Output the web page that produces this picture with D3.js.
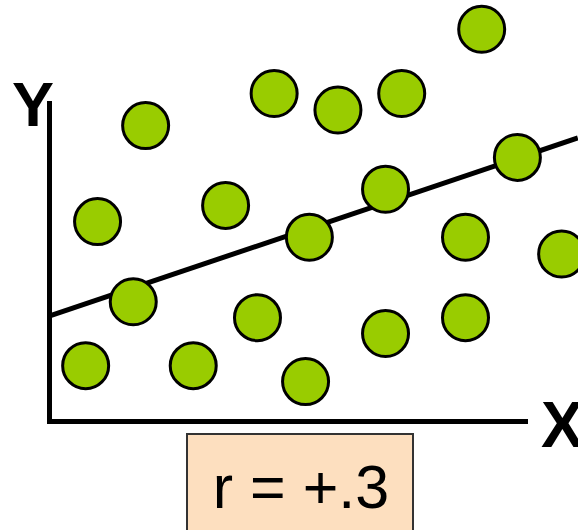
<!DOCTYPE html>
<html>
<head>
<meta charset="utf-8">
<script src="https://cdn.jsdelivr.net/npm/d3@7/dist/d3.min.js"></script>
<style>
  html, body { margin: 0; padding: 0; background: #fff; overflow: hidden; }
  svg { display: block; }
</style>
</head>
<body>
<svg id="chart" width="578" height="530"></svg>
<script>
// Scatter points (x, y) in plot units
const pointX = [90.9, 47.3, 60.7, 74.1, 20.3, 10.2, 37.1, 70.7, 98.4, 54.7, 87.5, 107.7, 17.7, 7.7, 30.3, 43.8, 53.9, 70.7, 87.5];
const pointY = [123.2, 103.0, 97.8, 103.0, 92.9, 62.7, 67.8, 72.9, 82.9, 57.8, 57.8, 52.5, 37.5, 17.4, 17.4, 32.5, 12.4, 27.5, 32.5];

// Fitted line endpoints
const trendX = [0, 111.1];
const trendY = [33.0, 89.0];

// Axis and annotation labels
const axisLabels = ["X", "Y"];
const correlationLabel = "r = +.3";

const svg = d3.select("#chart");

const x = d3.scaleLinear().domain([0, 100]).range([49, 525]);
const y = d3.scaleLinear().domain([0, 100]).range([421, 103]);

// Axes: bare heavy lines, no ticks
const xAxis = svg.append("g")
  .attr("transform", `translate(0,${y(0)})`)
  .call(d3.axisBottom(x).tickValues([]).tickSizeOuter(0));
const yAxis = svg.append("g")
  .attr("transform", `translate(${x(0)},0)`)
  .call(d3.axisLeft(y).tickValues([]).tickSizeOuter(0));
[xAxis, yAxis].forEach(g => g.select(".domain")
  .attr("stroke", "#000")
  .attr("stroke-width", 5)
  .attr("stroke-linecap", "square"));

// Trend line
const line = d3.line().x(d => x(d[0])).y(d => y(d[1]));
svg.append("path")
  .datum(d3.zip(trendX, trendY))
  .attr("d", line)
  .attr("fill", "none")
  .attr("stroke", "#000")
  .attr("stroke-width", 5);

// Points
svg.append("g")
  .selectAll("circle")
  .data(d3.zip(pointX, pointY))
  .join("circle")
  .attr("cx", d => x(d[0]))
  .attr("cy", d => y(d[1]))
  .attr("r", 23)
  .attr("fill", "#99CC00")
  .attr("stroke", "#000")
  .attr("stroke-width", 3);

// Axis letters
svg.append("text")
  .attr("x", 33).attr("y", 126)
  .attr("text-anchor", "middle")
  .attr("font-family", "Liberation Sans, Arial, sans-serif")
  .attr("font-weight", "bold")
  .attr("font-size", 63)
  .text(axisLabels[1]);
svg.append("text")
  .attr("x", 541).attr("y", 447)
  .attr("font-family", "Liberation Sans, Arial, sans-serif")
  .attr("font-weight", "bold")
  .attr("font-size", 64)
  .text(axisLabels[0]);

// Correlation box
svg.append("rect")
  .attr("x", 187).attr("y", 434)
  .attr("width", 226).attr("height", 120)
  .attr("fill", "#FDDFBF")
  .attr("stroke", "#333")
  .attr("stroke-width", 2);
svg.append("text")
  .attr("x", 301).attr("y", 508)
  .attr("text-anchor", "middle")
  .attr("font-family", "Liberation Sans, Arial, sans-serif")
  .attr("font-size", 61)
  .attr("fill", "#000")
  .text(correlationLabel);
</script>
</body>
</html>
